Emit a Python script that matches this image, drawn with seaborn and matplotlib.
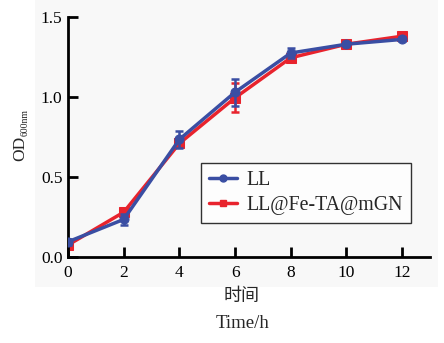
import matplotlib
matplotlib.use("Agg")
import matplotlib.pyplot as plt
import seaborn as sns
import pandas as pd
from matplotlib.patches import Rectangle
from matplotlib.lines import Line2D

time_h = [0, 2, 4, 6, 8, 10, 12]
ll_mean = [0.095, 0.235, 0.735, 1.03, 1.275, 1.33, 1.36]
ll_err = [0.02, 0.035, 0.055, 0.085, 0.03, 0.012, 0.012]
fe_mean = [0.075, 0.28, 0.71, 0.995, 1.245, 1.33, 1.38]
fe_err = [0.015, 0.02, 0.025, 0.09, 0.015, 0.01, 0.01]
series_names = ["LL", "LL@Fe-TA@mGN"]
colors = {"LL": "#3a4ea3", "LL@Fe-TA@mGN": "#e8232d"}
markers = {"LL": "o", "LL@Fe-TA@mGN": "s"}
y_ticks = [0.0, 0.5, 1.0, 1.5]
x_ticks = [0, 2, 4, 6, 8, 10, 12]

sns.set_theme(style="ticks")
plt.rcParams["font.family"] = ["Liberation Serif", "Noto Sans CJK SC", "DejaVu Sans"]

df = pd.concat([
    pd.DataFrame({"time": time_h, "od": ll_mean, "err": ll_err, "group": "LL"}),
    pd.DataFrame({"time": time_h, "od": fe_mean, "err": fe_err, "group": "LL@Fe-TA@mGN"}),
])

W, H = 444, 343
fig = plt.figure(figsize=(W / 100, H / 100), dpi=100)
fig.patch.set_facecolor("white")
fig.patches.append(Rectangle((35 / W, 1 - 287 / H), (438 - 35) / W, 287 / H,
                             transform=fig.transFigure, facecolor="#f8f8f8",
                             edgecolor="none", zorder=-10))
ax = fig.add_axes([68 / W, 1 - 257 / H, (430 - 68) / W, (257 - 17) / H])
ax.set_facecolor("none")

for name in ["LL@Fe-TA@mGN", "LL"]:
    sub = df[df["group"] == name]
    ax.errorbar(sub["time"], sub["od"], yerr=sub["err"], fmt="none",
                ecolor=colors[name], elinewidth=1.8, capsize=3, capthick=1.8,
                zorder=3 if name == "LL" else 2)
    sns.lineplot(data=sub, x="time", y="od", color=colors[name], marker=markers[name],
                 markersize=6.5, markeredgecolor=colors[name], linewidth=2.5,
                 ax=ax, legend=False, zorder=3 if name == "LL" else 2)

ax.set_xlim(0, 13)
ax.set_ylim(0, 1.5)
ax.set_xticks(x_ticks)
ax.set_xticklabels([str(t) for t in x_ticks])
ax.set_yticks(y_ticks)
ax.set_yticklabels([f"{t:.1f}" for t in y_ticks])
for s in ["top", "right"]:
    ax.spines[s].set_visible(False)
for s in ["left", "bottom"]:
    ax.spines[s].set_linewidth(2)
    ax.spines[s].set_color("black")
ax.tick_params(axis="both", direction="in", length=7, width=2, labelsize=12.5,
               colors="black")
ax.tick_params(axis="y", pad=4)
ax.tick_params(axis="x", pad=6)

ax.set_ylabel("")
fig.text(20 / W, 1 - 148 / H, "OD", rotation=90, fontsize=12.5,
         ha="center", va="center")
fig.text(25 / W, 1 - 122 / H, "600nm", rotation=90, fontsize=7,
         ha="center", va="center")
ax.set_xlabel("")
fig.text(242 / W, 1 - 297 / H, "时间", fontsize=13, ha="center", va="center")
fig.text(242 / W, 1 - 323 / H, "Time/h", fontsize=13.5, ha="center", va="center")

handles = [Line2D([], [], color=colors[n], marker=markers[n], markersize=5,
                  linewidth=2.5) for n in series_names]
leg = ax.legend(handles, series_names, loc="upper left",
                bbox_to_anchor=((201 - 68) / 362, (257 - 163) / 240),
                frameon=True, fancybox=False, fontsize=14.3, handlelength=1.4,
                borderpad=0.4, labelspacing=0.3, handletextpad=0.5, borderaxespad=0)
leg.get_frame().set_edgecolor("black")
leg.get_frame().set_linewidth(1)
leg.get_frame().set_facecolor("white")

fig.savefig("out.png", dpi=100)
